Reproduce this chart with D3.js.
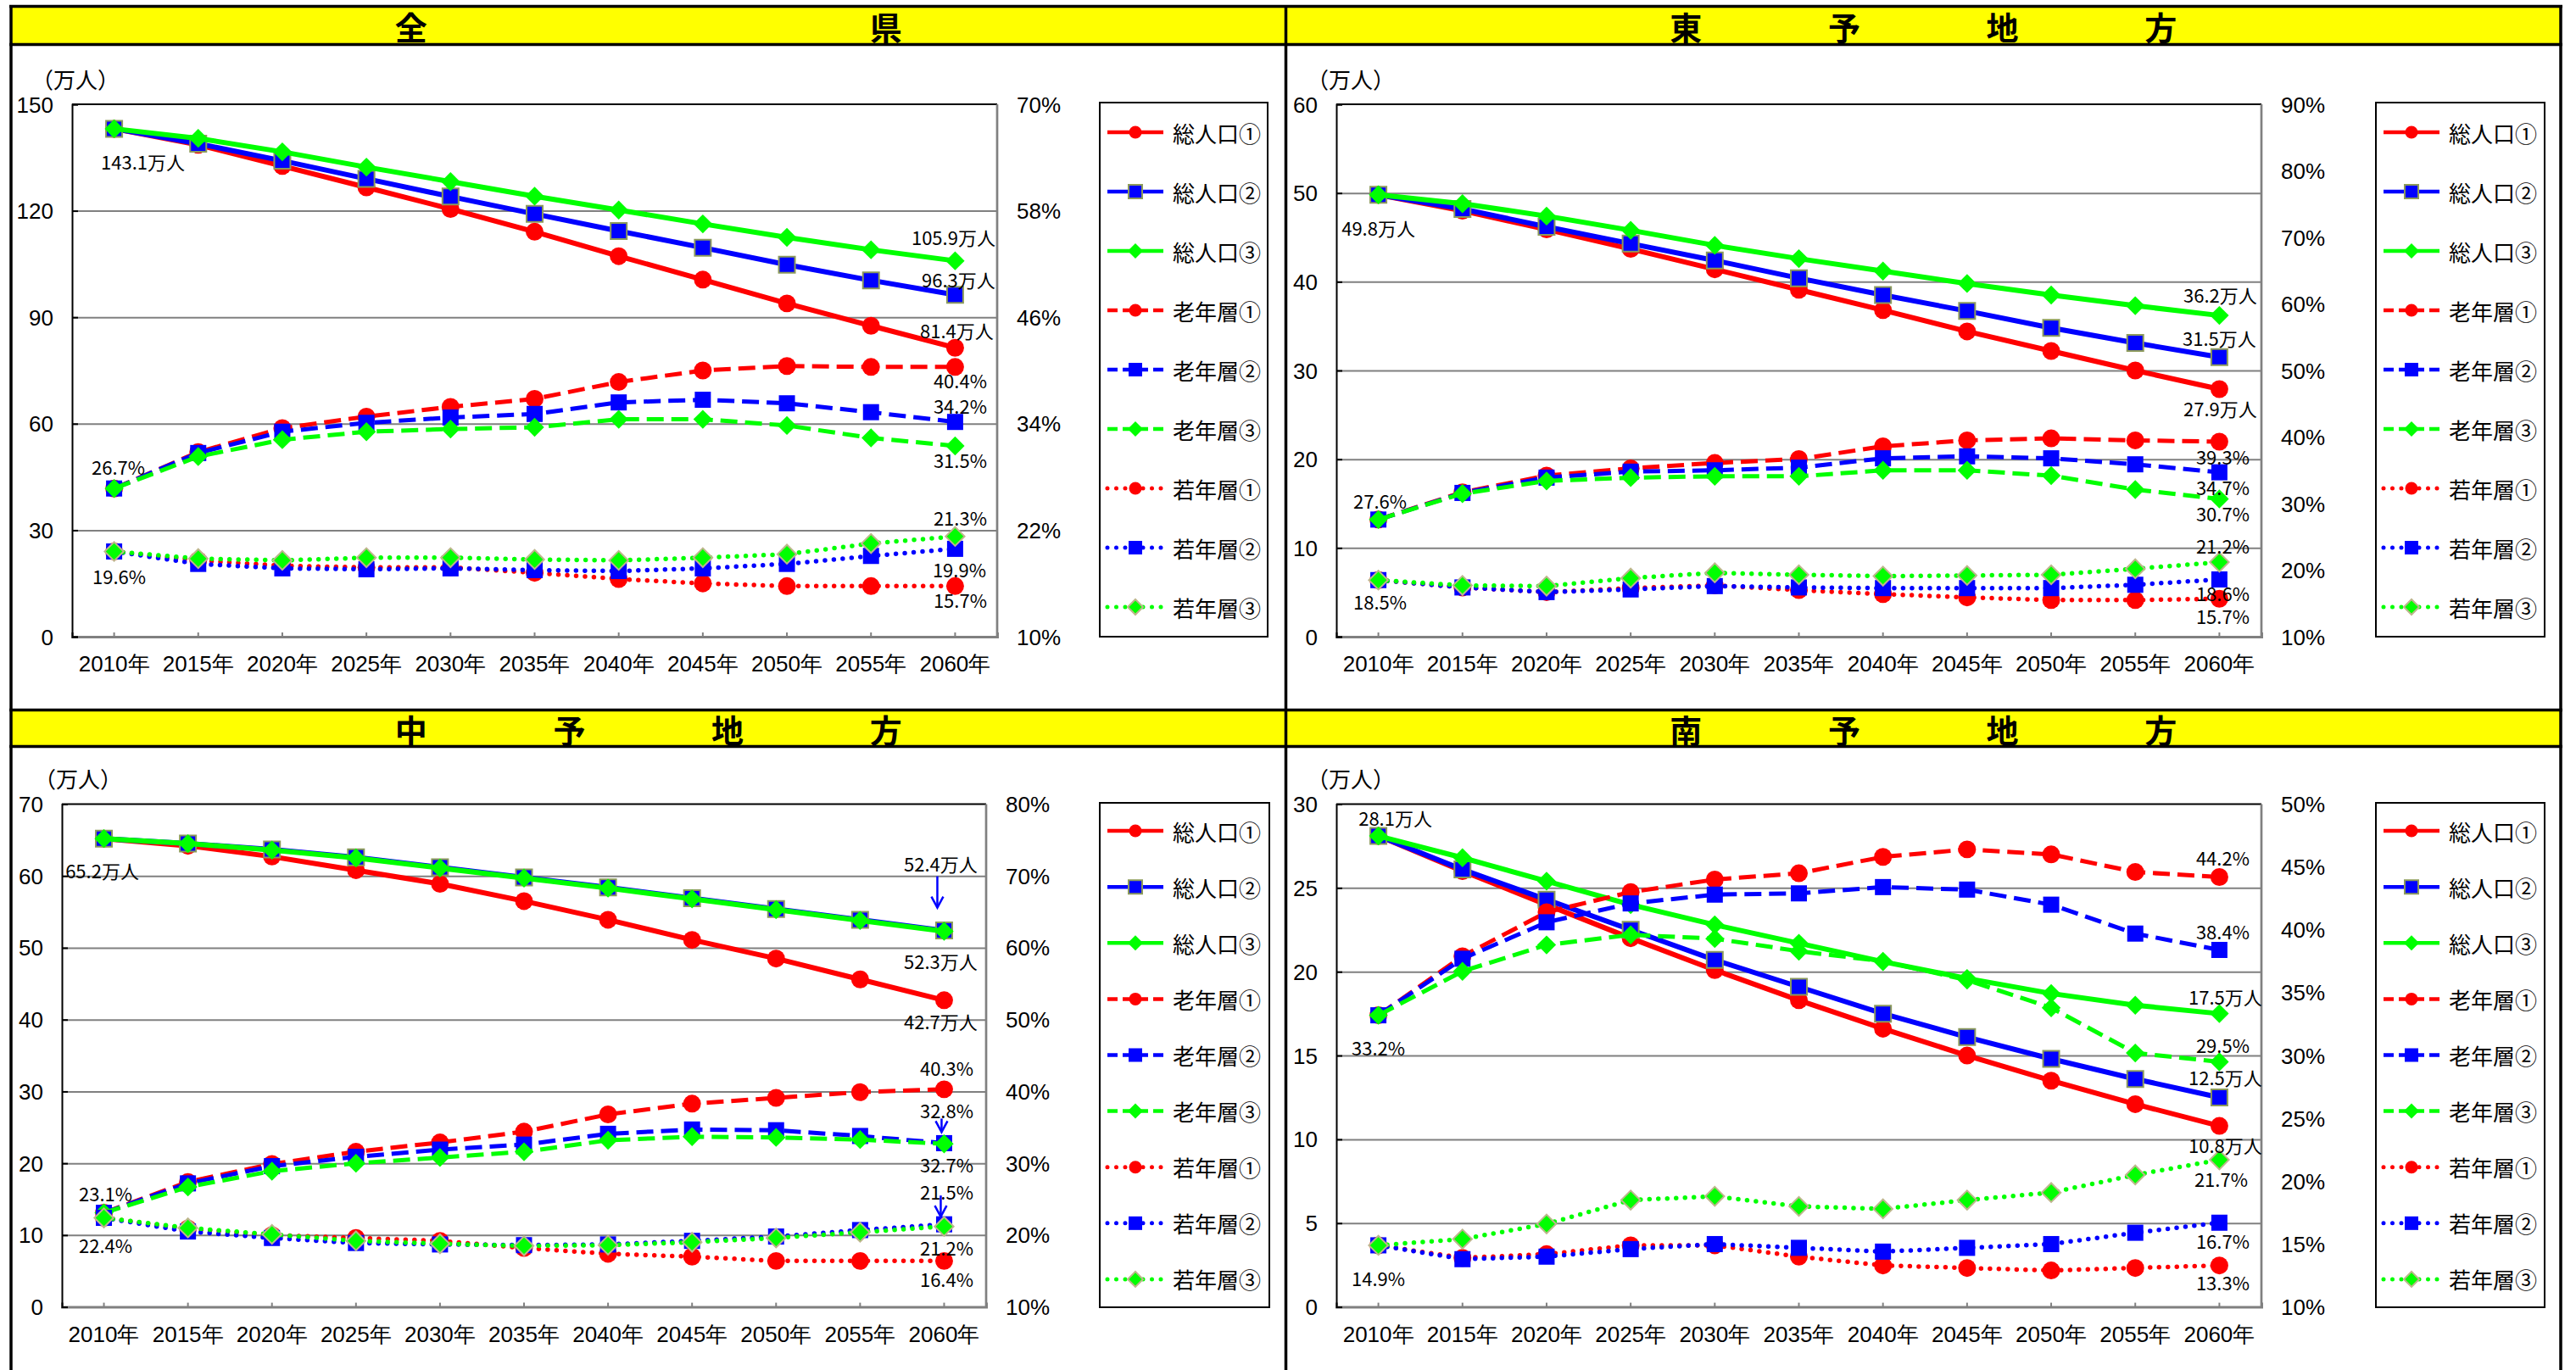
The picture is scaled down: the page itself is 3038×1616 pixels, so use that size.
<!DOCTYPE html>
<html lang="ja">
<head>
<meta charset="utf-8">
<script src="https://cdn.jsdelivr.net/npm/d3@7"></script>
<style>
  html, body { margin: 0; padding: 0; background: #fff; }
  svg { display: block; font-family: "Noto Sans CJK JP", "Noto Sans", sans-serif; }
</style>
</head>
<body>
<svg id="chart" width="3038" height="1616"></svg>
<script>
// ---- categories ----
const years = ["2010年","2015年","2020年","2025年","2030年","2035年","2040年","2045年","2050年","2055年","2060年"];

// ---- 全県 (総人口: 万人, 老年層/若年層: %) ----
const kenTotal1 = [143.1, 138.6, 132.6, 126.6, 120.5, 114.1, 107.2, 100.6, 93.9, 87.6, 81.4];
const kenTotal2 = [143.1, 138.9, 134.1, 129.0, 124.0, 119.1, 114.3, 109.6, 104.8, 100.4, 96.3];
const kenTotal3 = [143.1, 140.4, 136.6, 132.3, 128.2, 124.1, 120.2, 116.3, 112.5, 109.0, 105.9];
const kenOld1   = [26.7, 30.8, 33.5, 34.8, 35.9, 36.8, 38.7, 40.0, 40.5, 40.4, 40.4];
const kenOld2   = [26.7, 30.7, 33.1, 34.1, 34.7, 35.1, 36.4, 36.7, 36.3, 35.3, 34.2];
const kenOld3   = [26.7, 30.3, 32.2, 33.1, 33.4, 33.6, 34.5, 34.5, 33.8, 32.4, 31.5];
const kenYoung1 = [19.6, 18.6, 18.0, 17.8, 17.8, 17.2, 16.5, 16.0, 15.7, 15.7, 15.7];
const kenYoung2 = [19.6, 18.2, 17.7, 17.6, 17.7, 17.5, 17.4, 17.7, 18.2, 19.1, 19.9];
const kenYoung3 = [19.6, 18.8, 18.6, 18.9, 18.9, 18.7, 18.6, 18.9, 19.3, 20.5, 21.3];

// ---- 東予地方 ----
const toyoTotal1 = [49.8, 48.0, 45.9, 43.7, 41.4, 39.1, 36.8, 34.4, 32.2, 30.0, 27.9];
const toyoTotal2 = [49.8, 48.2, 46.2, 44.3, 42.4, 40.4, 38.5, 36.7, 34.8, 33.1, 31.5];
const toyoTotal3 = [49.8, 48.8, 47.4, 45.8, 44.1, 42.6, 41.2, 39.8, 38.5, 37.3, 36.2];
const toyoOld1   = [27.6, 31.7, 34.2, 35.3, 36.1, 36.7, 38.6, 39.5, 39.8, 39.5, 39.3];
const toyoOld2   = [27.6, 31.6, 33.9, 34.8, 35.0, 35.4, 36.8, 37.1, 36.8, 35.9, 34.7];
const toyoOld3   = [27.6, 31.5, 33.4, 33.9, 34.1, 34.1, 35.0, 35.0, 34.2, 32.1, 30.7];
const toyoYoung1 = [18.5, 17.4, 16.7, 17.3, 17.7, 17.0, 16.4, 15.9, 15.5, 15.5, 15.7];
const toyoYoung2 = [18.5, 17.4, 16.7, 17.1, 17.6, 17.4, 17.3, 17.3, 17.3, 17.8, 18.6];
const toyoYoung3 = [18.5, 17.7, 17.6, 18.8, 19.6, 19.3, 19.1, 19.2, 19.3, 20.2, 21.2];

// ---- 中予地方 ----
const chuyoTotal1 = [65.2, 64.2, 62.7, 60.8, 58.9, 56.5, 53.9, 51.1, 48.5, 45.6, 42.7];
const chuyoTotal2 = [65.2, 64.5, 63.7, 62.6, 61.2, 59.8, 58.4, 56.9, 55.4, 53.9, 52.4];
const chuyoTotal3 = [65.2, 64.5, 63.6, 62.5, 61.1, 59.7, 58.3, 56.8, 55.3, 53.8, 52.3];
const chuyoOld1   = [23.1, 27.4, 29.9, 31.6, 32.9, 34.4, 36.8, 38.3, 39.1, 39.9, 40.3];
const chuyoOld2   = [23.1, 27.2, 29.6, 30.9, 31.9, 32.6, 34.1, 34.7, 34.6, 33.8, 32.8];
const chuyoOld3   = [23.1, 26.7, 28.9, 30.0, 30.8, 31.6, 33.2, 33.7, 33.6, 33.3, 32.7];
const chuyoYoung1 = [22.4, 20.9, 20.0, 19.6, 19.2, 18.2, 17.4, 17.0, 16.4, 16.4, 16.4];
const chuyoYoung2 = [22.4, 20.5, 19.6, 18.9, 18.7, 18.6, 18.7, 19.2, 19.8, 20.7, 21.5];
const chuyoYoung3 = [22.4, 21.0, 20.1, 19.2, 18.8, 18.5, 18.6, 19.0, 19.6, 20.4, 21.2];

// ---- 南予地方 ----
const nanyoTotal1 = [28.1, 26.0, 24.0, 22.0, 20.1, 18.3, 16.6, 15.0, 13.5, 12.1, 10.8];
const nanyoTotal2 = [28.1, 26.1, 24.3, 22.5, 20.7, 19.1, 17.5, 16.1, 14.8, 13.6, 12.5];
const nanyoTotal3 = [28.1, 26.8, 25.4, 24.0, 22.8, 21.7, 20.6, 19.6, 18.7, 18.0, 17.5];
const nanyoOld1   = [33.2, 37.9, 41.4, 43.0, 44.0, 44.5, 45.8, 46.4, 46.0, 44.6, 44.2];
const nanyoOld2   = [33.2, 37.7, 40.6, 42.1, 42.8, 42.9, 43.4, 43.2, 42.0, 39.7, 38.4];
const nanyoOld3   = [33.2, 36.7, 38.8, 39.6, 39.3, 38.3, 37.5, 36.0, 33.8, 30.2, 29.5];
const nanyoYoung1 = [14.9, 13.9, 14.2, 14.9, 14.9, 14.0, 13.3, 13.1, 12.9, 13.1, 13.3];
const nanyoYoung2 = [14.9, 13.8, 14.0, 14.6, 15.0, 14.7, 14.4, 14.7, 15.0, 15.9, 16.7];
const nanyoYoung3 = [14.9, 15.4, 16.6, 18.5, 18.8, 18.0, 17.8, 18.5, 19.1, 20.5, 21.7];

// ---- series appearance ----
const RED = "#FF0000", BLUE = "#0000FF", GREEN = "#00FF00";
const seriesStyles = [
  { key: "total1", name: "総人口①", axis: "L", color: RED,   line: "solid", marker: "circle" },
  { key: "total2", name: "総人口②", axis: "L", color: BLUE,  line: "solid", marker: "square",  mstroke: "#8C9A5B" },
  { key: "total3", name: "総人口③", axis: "L", color: GREEN, line: "solid", marker: "diamond" },
  { key: "old1",   name: "老年層①", axis: "R", color: RED,   line: "dash",  marker: "circle" },
  { key: "old2",   name: "老年層②", axis: "R", color: BLUE,  line: "dash",  marker: "square" },
  { key: "old3",   name: "老年層③", axis: "R", color: GREEN, line: "dash",  marker: "diamond" },
  { key: "young1", name: "若年層①", axis: "R", color: RED,   line: "dot",   marker: "circle" },
  { key: "young2", name: "若年層②", axis: "R", color: BLUE,  line: "dot",   marker: "square" },
  { key: "young3", name: "若年層③", axis: "R", color: GREEN, line: "dot",   marker: "diamond", mstroke: "#BDB68C" }
];

// ---- panel layout ----
const panels = [
  {
    title: "全県", frame: [13, 1516.5], barY: 9,
    data: { total1: kenTotal1, total2: kenTotal2, total3: kenTotal3, old1: kenOld1, old2: kenOld2, old3: kenOld3, young1: kenYoung1, young2: kenYoung2, young3: kenYoung3 },
    yMax: 150, yStep: 30, pMin: 10, pMax: 70, pStep: 12,
    plot: { l: 85, t: 123, r: 1176, b: 751 },
    legend: { l: 1297, t: 121, r: 1495, b: 751 },
    unitDx: -48,
    labels: [
      ["total1", 0, 34, 38], ["old1", 0, 5, -26], ["young1", 0, 6, 28],
      ["total3", 10, -2, -29], ["total2", 10, 4, -19], ["total1", 10, 2, -21],
      ["old1", 10, 6, 15], ["old2", 10, 6, -20], ["old3", 10, 6, 16],
      ["young3", 10, 6, -23], ["young2", 10, 5, 24], ["young1", 10, 6, 16]
    ],
    arrows: []
  },
  {
    title: "東予地方", frame: [1516.5, 3020], barY: 9,
    data: { total1: toyoTotal1, total2: toyoTotal2, total3: toyoTotal3, old1: toyoOld1, old2: toyoOld2, old3: toyoOld3, young1: toyoYoung1, young2: toyoYoung2, young3: toyoYoung3 },
    yMax: 60, yStep: 10, pMin: 10, pMax: 90, pStep: 10,
    plot: { l: 1576, t: 123, r: 2667, b: 751 },
    legend: { l: 2802, t: 121, r: 3001, b: 751 },
    unitDx: -35,
    labels: [
      ["total1", 0, 0, 38], ["old1", 0, 2, -23], ["young1", 0, 2, 25],
      ["total3", 10, 1, -25], ["total2", 10, 0, -23], ["total1", 10, 1, 22],
      ["old1", 10, 4, 17], ["old2", 10, 4, 17], ["old3", 10, 4, 16],
      ["young3", 10, 4, -20], ["young2", 10, 4, 16], ["young1", 10, 4, 20]
    ],
    arrows: []
  },
  {
    title: "中予地方", frame: [13, 1516.5], barY: 839,
    data: { total1: chuyoTotal1, total2: chuyoTotal2, total3: chuyoTotal3, old1: chuyoOld1, old2: chuyoOld2, old3: chuyoOld3, young1: chuyoYoung1, young2: chuyoYoung2, young3: chuyoYoung3 },
    yMax: 70, yStep: 10, pMin: 10, pMax: 80, pStep: 10,
    plot: { l: 73, t: 948.5, r: 1163, b: 1541.6 },
    legend: { l: 1297, t: 947, r: 1497, b: 1542 },
    unitDx: -33,
    labels: [
      ["total1", 0, -2, 37], ["old1", 0, 2, -24], ["young1", 0, 2, 31],
      ["total2", 10, -4, -80], ["total3", 10, -4, 35], ["total1", 10, -4, 24],
      ["old1", 10, 3, -26], ["old2", 10, 3, -39], ["old3", 10, 3, 24],
      ["young2", 10, 3, -39], ["young3", 10, 3, 24], ["young1", 10, 3, 21]
    ],
    // blue pointer arrows: [series, index, dx, start dy, tip dy]
    arrows: [["total2", 10, -8, -64, -27], ["old2", 10, -3, -29, -13], ["young2", 10, -4, -34, -9]]
  },
  {
    title: "南予地方", frame: [1516.5, 3020], barY: 839,
    data: { total1: nanyoTotal1, total2: nanyoTotal2, total3: nanyoTotal3, old1: nanyoOld1, old2: nanyoOld2, old3: nanyoOld3, young1: nanyoYoung1, young2: nanyoYoung2, young3: nanyoYoung3 },
    yMax: 30, yStep: 5, pMin: 10, pMax: 50, pStep: 5,
    plot: { l: 1576, t: 948.5, r: 2667, b: 1541.6 },
    legend: { l: 2802, t: 947, r: 3001, b: 1542 },
    unitDx: -35,
    labels: [
      ["total1", 0, 20, -22], ["old1", 0, 0, 37], ["young1", 0, 0, 38],
      ["old1", 10, 4, -23], ["old2", 10, 4, -22], ["total3", 10, 7, -21],
      ["old3", 10, 4, -20], ["total2", 10, 7, -24], ["total1", 10, 7, 22],
      ["young3", 10, 2, 22], ["young2", 10, 4, 21], ["young1", 10, 4, 19]
    ],
    arrows: []
  }
];

const svg = d3.select("#chart");
const fmt1 = d3.format(".1f");

// ---- outer frame and yellow title bars ----
const frameG = svg.append("g");
[9, 839].forEach(y => {
  frameG.append("rect").attr("x", 13).attr("y", y).attr("width", 3007).attr("height", y === 9 ? 42 : 40).attr("fill", "#FFFF00");
});
[7.5, 52.5, 837.5, 880.5].forEach(y => {
  frameG.append("line").attr("x1", 11).attr("x2", 3022).attr("y1", y).attr("y2", y)
    .attr("stroke", "#000").attr("stroke-width", 3.5);
});
[13, 1516.5, 3020].forEach(x => {
  frameG.append("line").attr("x1", x).attr("x2", x).attr("y1", 6).attr("y2", 1616)
    .attr("stroke", "#000").attr("stroke-width", 3.5);
});

// ---- marker shapes ----
function markerPath(type, big) {
  if (type === "circle") return d3.symbol(d3.symbolCircle, big ? 346 : 177)();
  if (type === "square") return d3.symbol(d3.symbolSquare, big ? 361 : 256)();
  return d3.symbol(d3.symbolSquare, big ? 250 : 162)();
}
function styleLine(sel, s, legend) {
  sel.attr("fill", "none").attr("stroke", s.color).attr("stroke-linejoin", "round");
  if (s.line === "solid") sel.attr("stroke-width", legend ? 4.5 : 6);
  else if (s.line === "dash") sel.attr("stroke-width", legend ? 4.5 : 5).attr("stroke-dasharray", legend ? "12,6" : "20,9");
  else sel.attr("stroke-width", legend ? 5 : 5.5).attr("stroke-dasharray", "0,10.5").attr("stroke-linecap", "round");
}
function styleMarker(sel, s) {
  sel.attr("fill", s.color);
  if (s.mstroke) sel.attr("stroke", s.mstroke).attr("stroke-width", 2);
}

function drawPanel(p) {
  const g = svg.append("g");
  const { l, t, r, b } = p.plot;
  const x = d3.scaleBand().domain(years).range([l, r]);
  const cx = i => x(years[i]) + x.bandwidth() / 2;
  const yL = d3.scaleLinear().domain([0, p.yMax]).range([b, t]);
  const yR = d3.scaleLinear().domain([p.pMin, p.pMax]).range([b, t]);
  const scaleOf = s => (s.axis === "L" ? yL : yR);
  const leftTicks = d3.range(0, p.yMax + 1e-9, p.yStep);
  const rightTicks = d3.range(p.pMin, p.pMax + 1e-9, p.pStep);

  // title characters spread across the bar
  const chars = Array.from(p.title);
  const mid = (p.frame[0] + p.frame[1]) / 2, spread = 560;
  chars.forEach((ch, i) => {
    g.append("text")
      .attr("x", mid - spread / 2 + i * spread / (chars.length - 1))
      .attr("y", p.barY + (p.barY === 9 ? 21 : 20))
      .attr("text-anchor", "middle").attr("dominant-baseline", "central")
      .attr("font-size", 38).attr("font-weight", "bold").attr("fill", "#000")
      .text(ch);
  });

  // horizontal gridlines
  g.append("g").attr("transform", `translate(${l},0)`)
    .call(d3.axisLeft(yL).tickValues(leftTicks.slice(1, -1)).tickSize(-(r - l)).tickFormat(""))
    .call(s => { s.select(".domain").remove(); s.selectAll("line").attr("stroke", "#808080").attr("stroke-width", 2); });

  // plot border: top/left black, right/bottom grey
  g.append("line").attr("x1", l).attr("x2", r).attr("y1", t).attr("y2", t).attr("stroke", "#000").attr("stroke-width", 2);
  g.append("line").attr("x1", r).attr("x2", r).attr("y1", t).attr("y2", b).attr("stroke", "#808080").attr("stroke-width", 2.7);

  // category axis (ticks point inward at each category)
  g.append("g").attr("transform", `translate(0,${b})`)
    .call(d3.axisBottom(x).tickSize(-5))
    .call(s => {
      s.select(".domain").attr("stroke", "#808080").attr("stroke-width", 3);
      s.selectAll(".tick line").attr("stroke", "#808080").attr("stroke-width", 2);
      s.selectAll("text").attr("y", 32).attr("dy", null).attr("dominant-baseline", "central")
        .attr("font-size", 26).attr("font-family", null).attr("fill", "#000");
    });

  // value axis (left)
  g.append("g").attr("transform", `translate(${l},0)`)
    .call(d3.axisLeft(yL).tickValues(leftTicks).tickSize(-7).tickPadding(22).tickFormat(d3.format("d")))
    .call(s => {
      s.select(".domain").attr("stroke", "#000").attr("stroke-width", 2);
      s.selectAll(".tick line").attr("stroke", "#000").attr("stroke-width", 2);
      s.selectAll("text").attr("dy", null).attr("dominant-baseline", "central")
        .attr("font-size", 26).attr("font-family", null).attr("fill", "#000");
    });

  // percent axis (right)
  g.append("g").attr("transform", `translate(${r},0)`)
    .call(d3.axisRight(yR).tickValues(rightTicks).tickSize(0).tickPadding(23).tickFormat(d => d + "%"))
    .call(s => {
      s.select(".domain").remove();
      s.selectAll("text").attr("dy", null).attr("dominant-baseline", "central")
        .attr("font-size", 26).attr("font-family", null).attr("fill", "#000");
    });

  // unit caption
  g.append("text").attr("x", l + p.unitDx).attr("y", t - 31)
    .attr("dominant-baseline", "central").attr("font-size", 26).attr("fill", "#000")
    .text("（万人）");

  // series: line then markers, in legend order
  seriesStyles.forEach(s => {
    const vals = p.data[s.key];
    const ys = scaleOf(s);
    const line = d3.line().x((d, i) => cx(i)).y(d => ys(d));
    g.append("path").datum(vals).attr("d", line).call(sel => styleLine(sel, s, false));
    g.append("g").selectAll("path").data(vals).join("path")
      .attr("d", markerPath(s.marker, true))
      .attr("transform", (d, i) => `translate(${cx(i)},${ys(d)})${s.marker === "diamond" ? " rotate(45)" : ""}`)
      .call(sel => styleMarker(sel, s));
  });

  // data labels
  p.labels.forEach(([key, i, dx, dy]) => {
    const s = seriesStyles.find(d => d.key === key);
    const v = p.data[key][i];
    g.append("text")
      .attr("x", cx(i) + dx).attr("y", scaleOf(s)(v) + dy)
      .attr("text-anchor", "middle").attr("dominant-baseline", "central")
      .attr("font-size", 22).attr("fill", "#000")
      .text(fmt1(v) + (s.axis === "L" ? "万人" : "%"));
  });

  // pointer arrows
  p.arrows.forEach(([key, i, dx, y0, y1]) => {
    const s = seriesStyles.find(d => d.key === key);
    const px = cx(i) + dx, py = scaleOf(s)(p.data[key][i]);
    g.append("line").attr("x1", px).attr("x2", px).attr("y1", py + y0).attr("y2", py + y1)
      .attr("stroke", BLUE).attr("stroke-width", 2.5);
    g.append("path")
      .attr("d", `M${px - 7},${py + y1 - 13} L${px},${py + y1} L${px + 7},${py + y1 - 13}`)
      .attr("fill", "none").attr("stroke", BLUE).attr("stroke-width", 2.5);
  });

  // legend
  const L = p.legend;
  const lg = g.append("g");
  lg.append("rect").attr("x", L.l).attr("y", L.t).attr("width", L.r - L.l).attr("height", L.b - L.t)
    .attr("fill", "#fff").attr("stroke", "#000").attr("stroke-width", 2);
  const step = (L.b - L.t) / seriesStyles.length;
  seriesStyles.forEach((s, k) => {
    const yy = L.t + step * (k + 0.5);
    lg.append("line").attr("x1", L.l + 9).attr("x2", L.l + 75).attr("y1", yy).attr("y2", yy)
      .call(sel => styleLine(sel, s, true));
    lg.append("path").attr("d", markerPath(s.marker, false))
      .attr("transform", `translate(${L.l + 42},${yy})${s.marker === "diamond" ? " rotate(45)" : ""}`)
      .call(sel => styleMarker(sel, s));
    lg.append("text").attr("x", L.l + 86).attr("y", yy)
      .attr("dominant-baseline", "central").attr("font-size", 26).attr("fill", "#000")
      .text(s.name);
  });
}

panels.forEach(drawPanel);
</script>
</body>
</html>
